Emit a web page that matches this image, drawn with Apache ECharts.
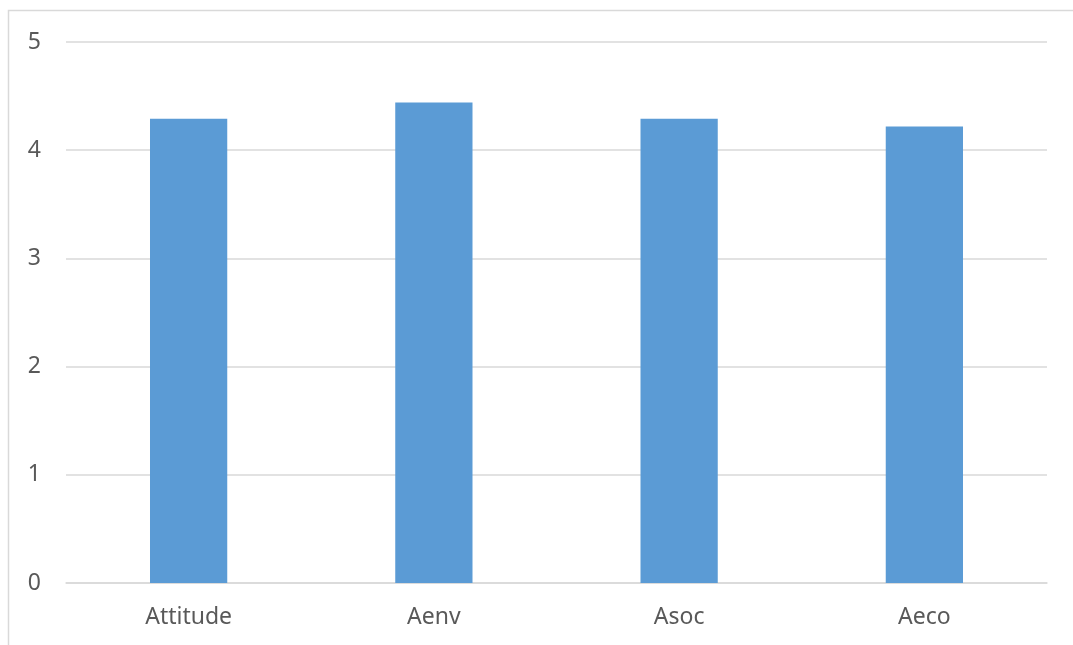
<!DOCTYPE html>
<html>
<head>
<meta charset="utf-8">
<script src="https://cdn.jsdelivr.net/npm/echarts@6/dist/echarts.min.js"></script>
<style>
  html, body { margin: 0; padding: 0; background: #ffffff; }
  #chart { width: 1073px; height: 645px; }
</style>
</head>
<body>
<div id="chart"></div>
<script>
// Mean attitude scores by dimension
const categories = ['Attitude', 'Aenv', 'Asoc', 'Aeco'];
const scores = [4.29, 4.44, 4.29, 4.22];

const chart = echarts.init(document.getElementById('chart'));
const labelFont = { color: '#595959', fontFamily: 'Noto Sans', fontSize: 23 };

chart.setOption({
  animation: false,
  graphic: [{
    type: 'rect',
    shape: { x: 8.5, y: 10.5, width: 1080, height: 660 },
    style: { fill: 'none', stroke: '#d9d9d9', lineWidth: 1.5 },
    silent: true
  }],
  grid: { left: 66, right: 26, top: 42, bottom: 62 },
  xAxis: {
    type: 'category',
    data: categories,
    axisLine: { lineStyle: { color: '#d9d9d9', width: 1.5 } },
    axisTick: { show: false },
    axisLabel: Object.assign({ margin: 23 }, labelFont)
  },
  yAxis: {
    type: 'value',
    min: 0,
    max: 5,
    interval: 1,
    axisLine: { show: false },
    axisTick: { show: false },
    splitLine: { lineStyle: { color: '#d9d9d9', width: 1.5 } },
    axisLabel: Object.assign({ margin: 25 }, labelFont)
  },
  series: [{
    type: 'bar',
    data: scores,
    barWidth: '31.5%',
    itemStyle: { color: '#5b9bd5' }
  }]
});
</script>
</body>
</html>
